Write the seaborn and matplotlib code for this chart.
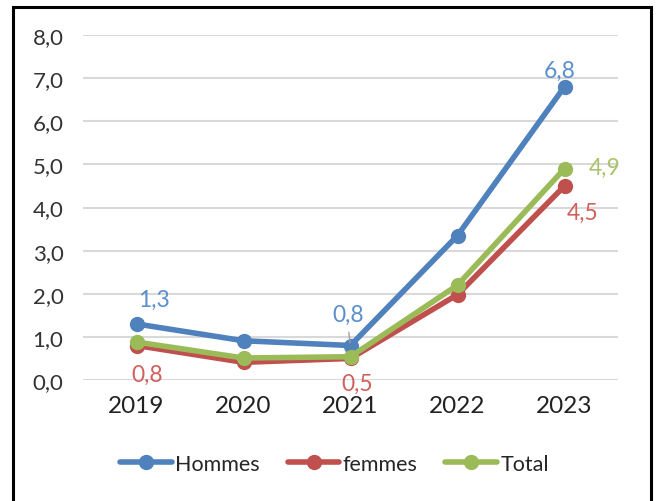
import matplotlib
matplotlib.use("Agg")
import matplotlib.pyplot as plt
import matplotlib.patches as patches
import seaborn as sns
import pandas as pd

years = ["2019", "2020", "2021", "2022", "2023"]
hommes = [1.3, 0.91, 0.8, 3.35, 6.8]
femmes = [0.8, 0.41, 0.5, 1.98, 4.5]
total = [0.88, 0.51, 0.54, 2.2, 4.9]
series_names = ["Hommes", "femmes", "Total"]
colors = ["#4F81BD", "#C0504D", "#9BBB59"]
label_colors = ["#5B8FCC", "#D0605C", "#A8C468"]
yticks = [0, 1, 2, 3, 4, 5, 6, 7, 8]

sns.set_theme(style="white")
plt.rcParams["font.family"] = ["Lato", "DejaVu Sans"]

fig = plt.figure(figsize=(6.56, 5.02), dpi=100)
ax = fig.add_axes([83/656, 1-381/502, 535/656, 345/502])

rows = []
for name, vals in zip(series_names, [hommes, femmes, total]):
    for i, v in enumerate(vals):
        rows.append({"pos": i, "val": v, "serie": name})
df = pd.DataFrame(rows)

for name, col in zip(series_names, colors):
    sub = df[df["serie"] == name]
    sns.lineplot(data=sub, x="pos", y="val", ax=ax, color=col, linewidth=4.0,
                 marker="o", markersize=11, markeredgewidth=0, label=name,
                 solid_capstyle="round")

ax.set_xlim(-0.5, 4.5)
ax.set_ylim(0, 8)
ax.set_yticks(yticks)
ax.set_yticklabels([f"{v:.1f}".replace(".", ",") for v in yticks], fontsize=16,
                   color="#333333")
ax.set_xticks(range(len(years)))
ax.set_xticklabels(years, fontsize=17.5, color="#222222")
ax.tick_params(axis="y", length=0, pad=14)
ax.tick_params(axis="x", length=0, pad=11)
ax.set_xlabel("")
ax.set_ylabel("")
for s in ax.spines.values():
    s.set_visible(False)
ax.yaxis.grid(True, color="#D9D9D9", linewidth=1.5)
ax.set_axisbelow(True)
ax.get_legend().remove()

# data labels (offsets in pixels)
def lab(idx, serie_vals, color, dx, dy):
    ax.annotate(f"{serie_vals[idx]:.1f}".replace(".", ","), (idx, serie_vals[idx]),
                xytext=(dx, dy), textcoords="offset pixels", ha="center", va="center",
                fontsize=16.5, color=color)

lab(0, hommes, label_colors[0], 17, 25)
lab(2, hommes, label_colors[0], -2, 31)
lab(4, hommes, label_colors[0], -5, 16)
lab(0, femmes, label_colors[1], 11, -29)
lab(2, femmes, label_colors[1], 7, -25)
lab(4, femmes, label_colors[1], 18, -26)
lab(4, total, label_colors[2], 40, 1)
# leader line for 2021 Hommes label
ax.annotate("", xy=(2, hommes[2]), xytext=(-2, 16), textcoords="offset pixels",
            arrowprops=dict(arrowstyle="-", color="#A0A0A0", lw=1))

handles, labels = ax.get_legend_handles_labels()
fig.legend(handles, labels, loc="center", bbox_to_anchor=(0.51, 1-465/502), ncol=3,
           frameon=False, fontsize=15.5, handlelength=2.4, columnspacing=1.3,
           handletextpad=0.15)

fig.patches.append(patches.Rectangle((13/656, -0.05), 638/656, 1.05-8/502,
                                     transform=fig.transFigure, fill=False,
                                     edgecolor="black", linewidth=2.2))

fig.savefig("out.png", dpi=100)
